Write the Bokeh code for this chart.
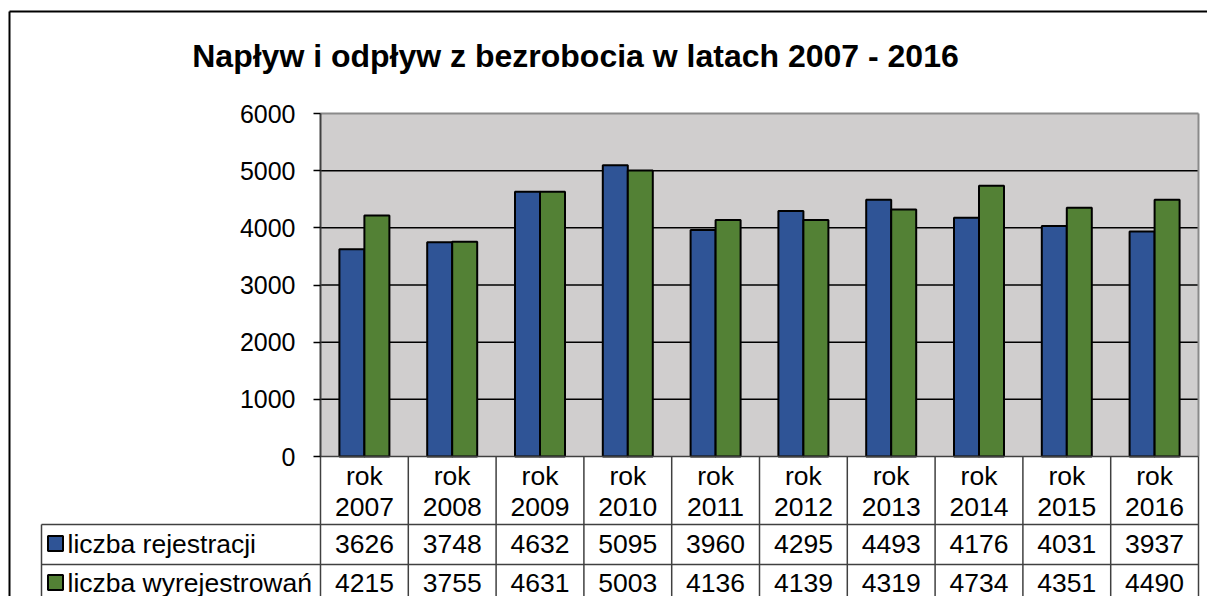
from bokeh.plotting import figure
from bokeh.models import Range1d, LinearAxis, FixedTicker
from bokeh.embed import file_html
from bokeh.resources import INLINE
from bokeh.core.properties import value

# ---------------- data ----------------
chart_title = "Napływ i odpływ z bezrobocia w latach 2007 - 2016"
year_prefix = "rok"
years = ["2007", "2008", "2009", "2010", "2011", "2012", "2013", "2014", "2015", "2016"]
series_names = ["liczba rejestracji", "liczba wyrejestrowań"]
registrations = [3626, 3748, 4632, 5095, 3960, 4295, 4493, 4176, 4031, 3937]
deregistrations = [4215, 3755, 4631, 5003, 4136, 4139, 4319, 4734, 4351, 4490]
y_ticks = [0, 1000, 2000, 3000, 4000, 5000, 6000]

# ---------------- layout constants (canvas pixels) ----------------
W, H = 1207, 596
PA_LEFT, PA_RIGHT = 320, 1198      # plot area x
PA_TOP, PA_BOTTOM = 113, 456       # plot area y (6000 / 0)
Y_MAX = 6000
PX_X = (PA_RIGHT - PA_LEFT) / len(years)
PX_Y = (PA_BOTTOM - PA_TOP) / Y_MAX


def dx(px):
    return (px - PA_LEFT) / PX_X


def dy(py):
    return (PA_BOTTOM - py) / PX_Y


FONT = value("Liberation Sans")
BLUE = "#2F5496"
GREEN = "#538135"
PLOT_BG = "#D0CECE"
LINE_DARK = "#404040"
TBL_FONT_SIZE = "26.5px"

p = figure(width=W, height=H, output_backend="svg", toolbar_location=None,
           x_range=Range1d(dx(0), dx(W)), y_range=Range1d(dy(H), dy(0)),
           x_axis_type=None, y_axis_type=None,
           min_border_left=0, min_border_right=0, min_border_top=0, min_border_bottom=0)
p.outline_line_color = None
p.background_fill_color = "white"
p.border_fill_color = "white"

n = len(years)
centers = [i + 0.5 for i in range(n)]
bar_w = 25 / PX_X

# plot area background
p.quad(left=[0], right=[n], bottom=[0], top=[Y_MAX], fill_color=PLOT_BG, line_color=None)

# gridlines
grid_vals = [t for t in y_ticks if 0 < t < Y_MAX]
p.segment(x0=[0] * len(grid_vals), x1=[n] * len(grid_vals), y0=grid_vals, y1=grid_vals,
          line_color="black", line_width=1.5)

# plot area top/right border
p.segment(x0=[0, n], x1=[n, n], y0=[Y_MAX, Y_MAX], y1=[Y_MAX, 0], line_color="#8A8A8A", line_width=2)

# bars
p.vbar(x=[c - bar_w / 2 for c in centers], width=bar_w, bottom=0, top=registrations,
       fill_color=BLUE, line_color="black", line_width=2)
p.vbar(x=[c + bar_w / 2 for c in centers], width=bar_w, bottom=0, top=deregistrations,
       fill_color=GREEN, line_color="black", line_width=2)

# y axis at x = 0
yaxis = LinearAxis(fixed_location=0, ticker=FixedTicker(ticks=y_ticks), bounds=(0, Y_MAX))
yaxis.major_label_text_font = "Liberation Sans"
yaxis.major_label_text_font_size = "25px"
yaxis.major_label_text_color = "black"
yaxis.major_tick_out = 7
yaxis.major_tick_in = 0
yaxis.major_tick_line_color = "black"
yaxis.major_tick_line_width = 1.5
yaxis.minor_tick_line_color = None
yaxis.axis_line_color = LINE_DARK
yaxis.axis_line_width = 2
yaxis.major_label_standoff = 18
p.add_layout(yaxis, "left")

# ---------------- data table ----------------
tbl_left = dx(41)
row1_top, row2_top = dy(524), dy(564)
bottom = dy(H)
# horizontal lines
p.segment(x0=[0, tbl_left, tbl_left], x1=[n, n, n], y0=[0, row1_top, row2_top], y1=[0, row1_top, row2_top],
          line_color=LINE_DARK, line_width=1.5)
# vertical lines
vx = list(range(n + 1))
p.segment(x0=vx, x1=vx, y0=[0] * len(vx), y1=[bottom] * len(vx), line_color=LINE_DARK, line_width=1.5)
p.segment(x0=[tbl_left], x1=[tbl_left], y0=[row1_top], y1=[bottom], line_color=LINE_DARK, line_width=1.5)

# header texts
p.text(x=centers, y=[dy(475)] * n, text=[year_prefix] * n, text_font=FONT, text_font_size=TBL_FONT_SIZE,
       text_align="center", text_baseline="middle", text_color="black")
p.text(x=centers, y=[dy(506)] * n, text=years, text_font=FONT, text_font_size=TBL_FONT_SIZE,
       text_align="center", text_baseline="middle", text_color="black")

# value rows
row_y = [dy(543), dy(582)]
for vals, ry in zip([registrations, deregistrations], row_y):
    p.text(x=centers, y=[ry] * n, text=[str(v) for v in vals], text_font=FONT, text_font_size=TBL_FONT_SIZE,
           text_align="center", text_baseline="middle", text_color="black")

# series labels + legend keys
p.scatter(x=[dx(55)] * 2, y=row_y, marker="square", size=15, fill_color=[BLUE, GREEN],
          line_color="black", line_width=2)
p.text(x=[dx(67)] * 2, y=row_y, text=series_names, text_font=FONT, text_font_size=TBL_FONT_SIZE,
       text_align="left", text_baseline="middle", text_color="black")

# title
p.text(x=[dx(575)], y=[dy(55)], text=[chart_title], text_font=FONT, text_font_size="32px",
       text_font_style="bold", text_align="center", text_baseline="middle", text_color="black")

# outer chart border (left + top)
p.segment(x0=[dx(9), dx(9)], x1=[dx(9), dx(W)], y0=[dy(11), dy(11)], y1=[dy(H), dy(11)],
          line_color="black", line_width=2)

open("out.html", "w").write(file_html(p, INLINE))
